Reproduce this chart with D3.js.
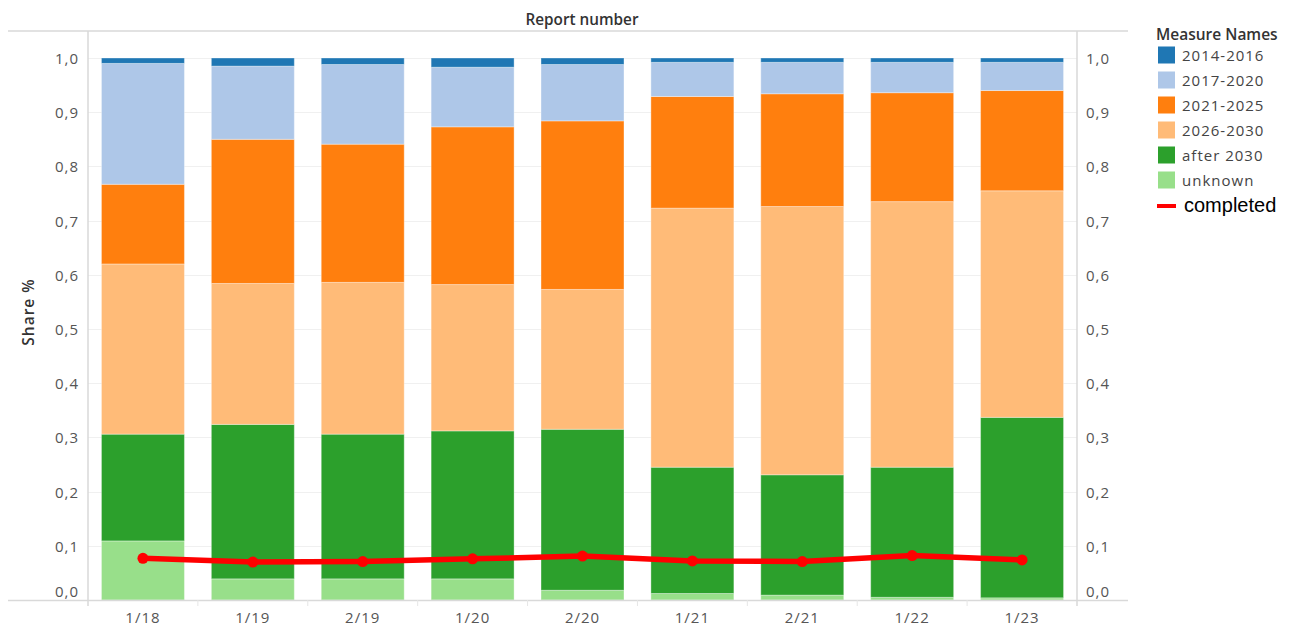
<!DOCTYPE html>
<html>
<head>
<meta charset="utf-8">
<script src="https://cdn.jsdelivr.net/npm/d3@7"></script>
<style>
  html, body { margin: 0; padding: 0; background: #fff; }
  svg { display: block; }
</style>
</head>
<body>
<svg id="chart" width="1293" height="631"></svg>
<script>
// ---- data ----
const categories = ["1/18", "1/19", "2/19", "1/20", "2/20", "1/21", "2/21", "1/22", "1/23"];
const seriesNames = ["2014-2016", "2017-2020", "2021-2025", "2026-2030", "after 2030", "unknown"];
const s2014_2016 = [0.010, 0.015, 0.012, 0.017, 0.012, 0.008, 0.008, 0.008, 0.008];
const s2017_2020 = [0.223, 0.135, 0.147, 0.110, 0.104, 0.063, 0.058, 0.056, 0.052];
const s2021_2025 = [0.147, 0.266, 0.255, 0.291, 0.311, 0.206, 0.208, 0.201, 0.185];
const s2026_2030 = [0.314, 0.260, 0.280, 0.270, 0.258, 0.478, 0.495, 0.490, 0.418];
const sAfter2030 = [0.197, 0.285, 0.267, 0.273, 0.297, 0.233, 0.222, 0.240, 0.333];
const sUnknown   = [0.109, 0.039, 0.039, 0.039, 0.018, 0.012, 0.009, 0.005, 0.004];
const completed  = [0.077, 0.070, 0.071, 0.076, 0.081, 0.072, 0.071, 0.082, 0.074];
const yTicks = [0, 0.1, 0.2, 0.3, 0.4, 0.5, 0.6, 0.7, 0.8, 0.9, 1.0];
const colors = ["#1f77b4", "#aec7e8", "#ff7f0e", "#ffbb78", "#2ca02c", "#98df8a"];

const seriesValues = {
  "2014-2016": s2014_2016,
  "2017-2020": s2017_2020,
  "2021-2025": s2021_2025,
  "2026-2030": s2026_2030,
  "after 2030": sAfter2030,
  "unknown": sUnknown
};

// ---- layout ----
const svg = d3.select("#chart");
const pL = 88, pR = 1077, pT = 31, pB = 600;
const fontTab = "'Open Sans', 'Noto Sans', sans-serif";

const x = d3.scaleBand().domain(categories).range([pL, pR])
  .paddingInner(0.245).paddingOuter(0.1225);
const y = d3.scaleLinear().domain([0, 1]).range([pB, 58]);
const color = d3.scaleOrdinal().domain(seriesNames).range(colors);

// gridlines
svg.append("g").selectAll("line").data(yTicks).join("line")
  .attr("x1", pL).attr("x2", pR)
  .attr("y1", d => Math.round(y(d)) + 0.5).attr("y2", d => Math.round(y(d)) + 0.5)
  .attr("stroke", "#f0f0f0").attr("stroke-width", 1);

// stacked bars (bottom-up order: unknown ... 2014-2016)
const stackOrder = seriesNames.slice().reverse();
const rows = categories.map((c, i) => {
  const r = { cat: c };
  seriesNames.forEach(s => r[s] = seriesValues[s][i]);
  return r;
});
const stacked = d3.stack().keys(stackOrder)(rows);

svg.append("g").selectAll("g").data(stacked).join("g")
  .attr("fill", d => color(d.key))
  .selectAll("rect").data(d => d).join("rect")
  .attr("x", d => x(d.data.cat))
  .attr("width", x.bandwidth())
  .attr("y", d => y(d[1]))
  .attr("height", d => Math.max(0, y(d[0]) - y(d[1])))
  .attr("stroke", "rgba(255,255,255,0.35)")
  .attr("stroke-width", 1);

// frame lines
const frame = svg.append("g").attr("stroke", "#d9d9d9").attr("fill", "none");
frame.append("line").attr("x1", 8).attr("x2", 1128).attr("y1", pT).attr("y2", pT).attr("stroke-width", 1.5);
frame.append("line").attr("x1", 8).attr("x2", 1128).attr("y1", pB + 0.5).attr("y2", pB + 0.5).attr("stroke-width", 1.5);
frame.append("line").attr("x1", pL).attr("x2", pL).attr("y1", pT).attr("y2", pB + 6).attr("stroke-width", 1.5);
frame.append("line").attr("x1", pR).attr("x2", pR).attr("y1", pT).attr("y2", pB + 6).attr("stroke-width", 1.5);
// category divider ticks
const dividers = categories.slice(1).map(c => x(c) - x.step() * x.paddingInner() / 2);
frame.selectAll("line.div").data(dividers).join("line").attr("class", "div")
  .attr("x1", d => d).attr("x2", d => d).attr("y1", pB).attr("y2", pB + 6)
  .attr("stroke", "#e6e6e6").attr("stroke-width", 1);

// y tick labels
const fmt = d => d3.format(".1f")(d).replace(".", ",");
const labOffset = d => d === 0 ? -9 : 0;
svg.append("g").selectAll("text").data(yTicks).join("text")
  .attr("x", 79).attr("y", d => y(d) + labOffset(d))
  .attr("text-anchor", "end").attr("dominant-baseline", "central")
  .attr("font-family", fontTab).attr("font-size", 15).attr("letter-spacing", 1).attr("fill", "#555")
  .text(fmt);
svg.append("g").selectAll("text").data(yTicks).join("text")
  .attr("x", 1086).attr("y", d => y(d) + labOffset(d))
  .attr("text-anchor", "start").attr("dominant-baseline", "central")
  .attr("font-family", fontTab).attr("font-size", 15).attr("letter-spacing", 1).attr("fill", "#555")
  .text(fmt);

// x labels
svg.append("g").selectAll("text").data(categories).join("text")
  .attr("x", d => x(d) + x.bandwidth() / 2).attr("y", 617)
  .attr("text-anchor", "middle").attr("dominant-baseline", "central")
  .attr("font-family", fontTab).attr("font-size", 15).attr("letter-spacing", 1).attr("fill", "#555")
  .text(d => d);

// titles
svg.append("text").attr("x", 582).attr("y", 19)
  .attr("text-anchor", "middle").attr("dominant-baseline", "central")
  .attr("font-family", fontTab).attr("font-size", 15.3).attr("font-weight", 600).attr("fill", "#333")
  .text("Report number");
svg.append("text").attr("transform", "translate(28,312) rotate(-90)")
  .attr("text-anchor", "middle").attr("dominant-baseline", "central")
  .attr("font-family", fontTab).attr("font-size", 15.5).attr("letter-spacing", 1).attr("font-weight", 600).attr("fill", "#333")
  .text("Share %");

// completed line
const line = d3.line()
  .x((d, i) => x(categories[i]) + x.bandwidth() / 2)
  .y(d => y(d));
svg.append("path").datum(completed)
  .attr("d", line).attr("fill", "none")
  .attr("stroke", "#ff0000").attr("stroke-width", 5.5)
  .attr("stroke-linejoin", "round").attr("stroke-linecap", "round");
svg.append("g").selectAll("circle").data(completed).join("circle")
  .attr("cx", (d, i) => x(categories[i]) + x.bandwidth() / 2)
  .attr("cy", d => y(d)).attr("r", 5.5).attr("fill", "#ff0000");

// legend
const lg = svg.append("g");
lg.append("text").attr("x", 1156).attr("y", 34)
  .attr("dominant-baseline", "central")
  .attr("font-family", fontTab).attr("font-size", 15.5).attr("font-weight", 600).attr("fill", "#333")
  .text("Measure Names");
const items = lg.selectAll("g.item").data(seriesNames).join("g").attr("class", "item")
  .attr("transform", (d, i) => `translate(0,${55 + i * 25})`);
items.append("rect").attr("x", 1158).attr("y", -8.5).attr("width", 17).attr("height", 17)
  .attr("fill", d => color(d));
items.append("text").attr("x", 1182).attr("y", 0)
  .attr("dominant-baseline", "central")
  .attr("font-family", fontTab).attr("font-size", 15).attr("letter-spacing", 1).attr("fill", "#444")
  .text(d => d);
const ci = lg.append("g").attr("transform", "translate(0,206)");
ci.append("line").attr("x1", 1157).attr("x2", 1176).attr("y1", 0).attr("y2", 0)
  .attr("stroke", "#ff0000").attr("stroke-width", 4);
ci.append("text").attr("x", 1184).attr("y", -1)
  .attr("dominant-baseline", "central")
  .attr("font-family", "'Liberation Sans', Arial, sans-serif").attr("font-size", 20).attr("fill", "#000")
  .text("completed");
</script>
</body>
</html>
